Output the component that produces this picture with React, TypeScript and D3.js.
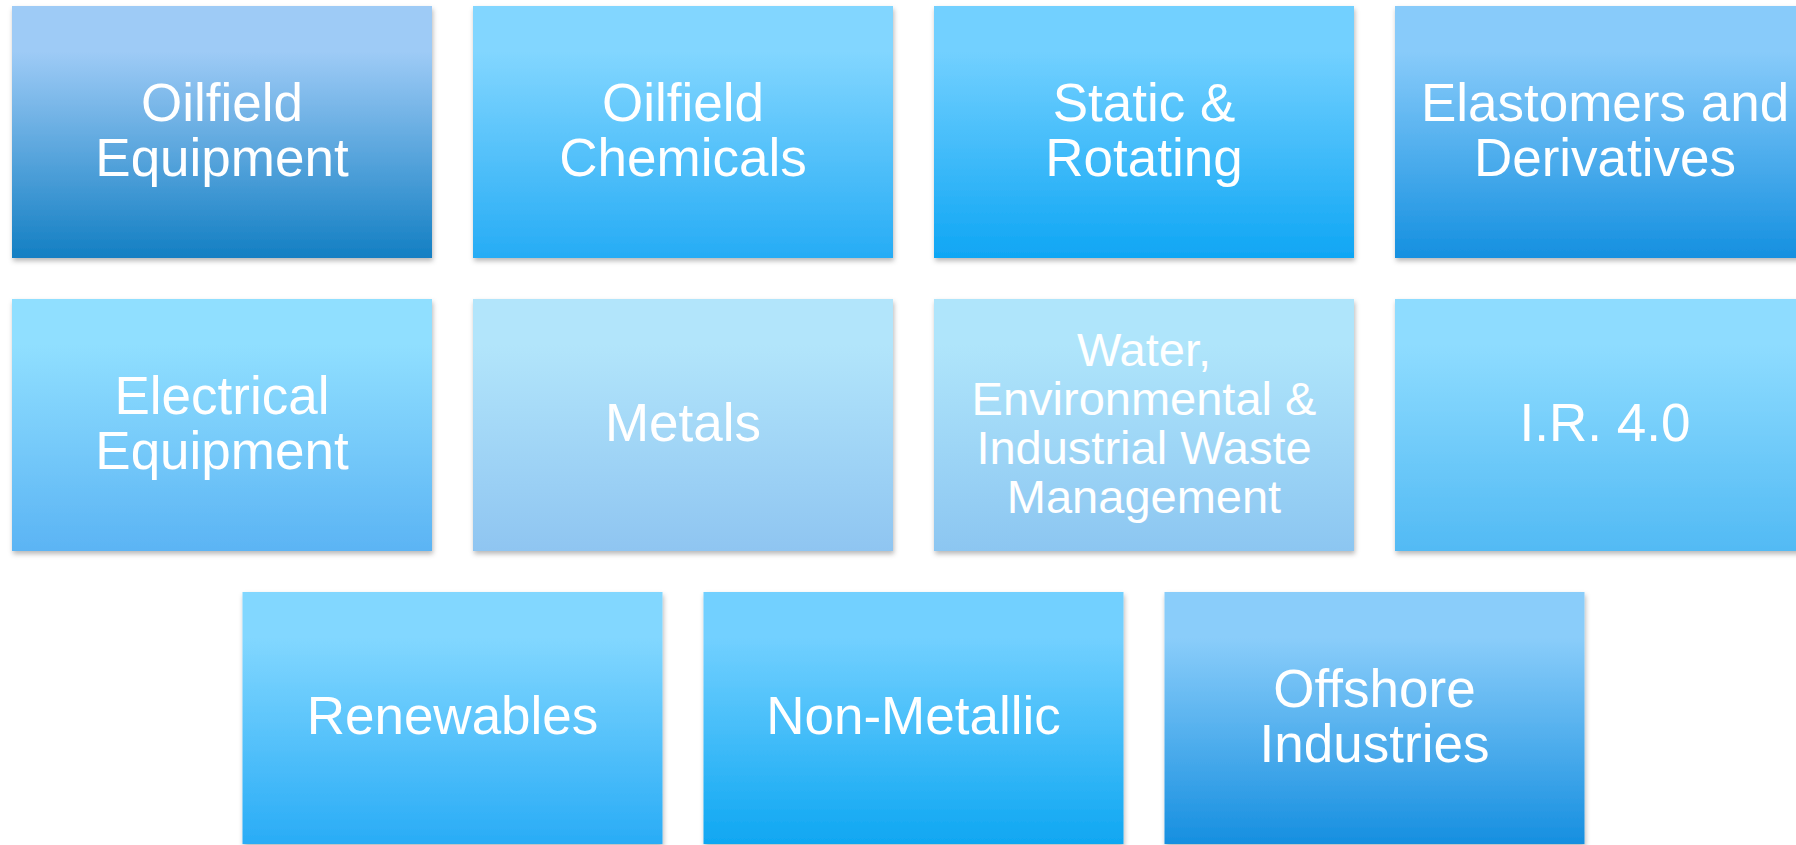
import React from "react";
import * as d3 from "d3";

const labels: string[][] = [
  ["Oilfield", "Equipment"],
  ["Oilfield", "Chemicals"],
  ["Static &", "Rotating"],
  ["Elastomers and", "Derivatives"],
  ["Electrical", "Equipment"],
  ["Metals"],
  ["Water,", "Environmental &", "Industrial Waste", "Management"],
  ["I.R. 4.0"],
  ["Renewables"],
  ["Non-Metallic"],
  ["Offshore", "Industries"],
];
const cols = [0, 1, 2, 3, 0, 1, 2, 3, 0.5, 1.5, 2.5];
const rows = [0, 0, 0, 0, 1, 1, 1, 1, 2, 2, 2];
const topColors = ["#9ecbf6", "#82d6ff", "#72d0ff", "#88cbfa", "#90dfff", "#b2e5fb", "#afe5fb", "#8edcff", "#82d7ff", "#72d0ff", "#8acdfa"];
const bottomColors = ["#137fc3", "#26acf5", "#0fa6f4", "#1590e0", "#5bb4f4", "#8fc5f1", "#8cc6f1", "#52baf4", "#29acf6", "#0fa7f2", "#168fe0"];

const W = 1796;
const H = 845;
const TW = 420;
const TH = 252;

export default function App() {
  const x = d3.scaleLinear().domain([0, 1]).range([12, 473]);
  const y = d3.scaleLinear().domain([0, 1]).range([6, 299]);
  return (
    <svg width={W} height={H} style={{ position: "absolute", left: 0, top: 0, background: "#fff" }}>
      <defs>
        <filter id="sh" x="-10%" y="-10%" width="120%" height="125%">
          <feDropShadow dx="1" dy="3" stdDeviation="2.5" floodColor="#000" floodOpacity="0.28" />
        </filter>
        {labels.map((_, i) => (
          <linearGradient key={i} id={`g${i}`} x1="0" y1="0" x2="0" y2="1">
            <stop offset="0" stopColor={topColors[i]} />
            <stop offset="0.18" stopColor={topColors[i]} />
            <stop offset="1" stopColor={bottomColors[i]} />
          </linearGradient>
        ))}
      </defs>
      {labels.map((lines, i) => {
        const x0 = x(cols[i]);
        const y0 = y(rows[i]);
        const n = lines.length;
        const fs = n > 2 ? 47 : 53;
        const lh = n > 2 ? 49 : 55;
        const cy = y0 + TH / 2;
        return (
          <g key={i}>
            <rect x={x0} y={y0} width={TW} height={TH} fill={`url(#g${i})`} filter="url(#sh)" />
            <text
              fill="#fff"
              fontFamily="'Liberation Sans', Arial, sans-serif"
              fontSize={fs}
              textAnchor="middle"
            >
              {lines.map((l, j) => (
                <tspan key={j} x={x0 + TW / 2} y={cy + (j - (n - 1) / 2) * lh + fs * 0.31}>
                  {l}
                </tspan>
              ))}
            </text>
          </g>
        );
      })}
    </svg>
  );
}
